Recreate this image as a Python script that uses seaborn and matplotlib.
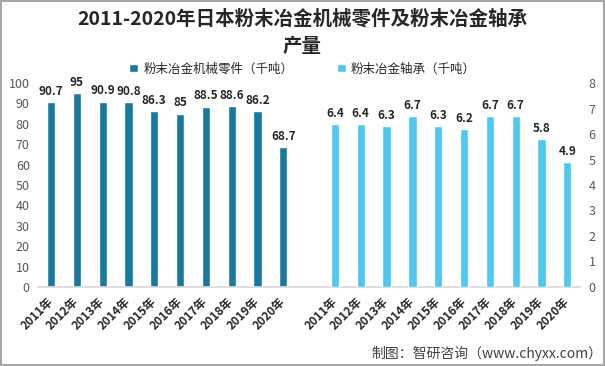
import pandas as pd
import seaborn as sns
import matplotlib.pyplot as plt

# données
years = ["2011年", "2012年", "2013年", "2014年", "2015年", "2016年", "2017年", "2018年", "2019年", "2020年"]
parts = [90.7, 95, 90.9, 90.8, 86.3, 85, 88.5, 88.6, 86.2, 68.7]
bearings = [6.4, 6.4, 6.3, 6.7, 6.3, 6.2, 6.7, 6.7, 5.8, 4.9]
label_parts = "粉末冶金机械零件（千吨）"
label_bearings = "粉末冶金轴承（千吨）"
title1 = "2011-2020年日本粉末冶金机械零件及粉末冶金轴承"
title2 = "产量"
source = "制图：智研咨询（www.chyxx.com）"

sns.set_theme(style="white")
plt.rcParams['font.family'] = ['Noto Sans CJK SC', 'DejaVu Sans']

# 21 emplacements : 10 années, un vide, 10 années
keys1 = ["a" + y for y in years]
keys2 = ["b" + y for y in years]
order = keys1 + ["gap"] + keys2
df1 = pd.DataFrame({"key": keys1, "value": parts})
df2 = pd.DataFrame({"key": keys2, "value": bearings})

dark = "#17799D"
light = "#4DC8F1"

fig = plt.figure(figsize=(6.05, 3.66), dpi=100, linewidth=1.5, edgecolor="#a6a6a6")
ax = fig.add_axes([0.063, 0.216, 0.896, 0.557])
sns.barplot(data=df1, x="key", y="value", order=order, color=dark, width=0.32,
            saturation=1, label=label_parts, ax=ax)
ax2 = ax.twinx()
sns.barplot(data=df2, x="key", y="value", order=order, color=light, width=0.32,
            saturation=1, label=label_bearings, ax=ax2)

ax.set_ylim(0, 100)
ax.set_yticks(range(0, 101, 10))
ax2.set_ylim(0, 8)
ax2.set_yticks(range(0, 9))

ax.bar_label(ax.containers[0], fmt="%g", fontweight="bold", fontsize=8.5, padding=3, color="#262626")
ax2.bar_label(ax2.containers[0], fmt="%g", fontweight="bold", fontsize=8.5, padding=3, color="#262626")

ticks = [i for i, k in enumerate(order) if k != "gap"]
ax.set_xticks(ticks)
ax.set_xticklabels(years + years, rotation=45, ha="right", va="center", rotation_mode="anchor",
                   fontweight="bold", fontsize=8.5, color="#262626")
ax.set_xlabel("")
ax.set_ylabel("")
ax2.set_ylabel("")

for a in (ax, ax2):
    for s in a.spines.values():
        s.set_visible(False)
    a.tick_params(axis="y", length=0, labelsize=9, labelcolor="#595959", pad=6)
ax.tick_params(axis="x", length=0, pad=9)
ax.spines["bottom"].set_visible(True)
ax.spines["bottom"].set_color("#d9d9d9")

fig.text(0.5, 0.948, title1, ha="center", va="center", fontsize=14, fontweight="bold", color="#262626")
fig.text(0.5, 0.874, title2, ha="center", va="center", fontsize=14, fontweight="bold", color="#262626")

h1, l1 = ax.get_legend_handles_labels()
h2, l2 = ax2.get_legend_handles_labels()
fig.legend(h1 + h2, l1 + l2, ncol=2, loc="center", bbox_to_anchor=(0.5, 0.812), frameon=False,
           fontsize=9, handlelength=0.7, handleheight=0.7, handletextpad=0.4, columnspacing=3.5)
for a in (ax, ax2):
    if a.get_legend() is not None:
        a.get_legend().remove()

fig.text(0.996, 0.033, source, ha="right", va="center", fontsize=10, color="#404040")

fig.savefig("out.png", dpi=100)
